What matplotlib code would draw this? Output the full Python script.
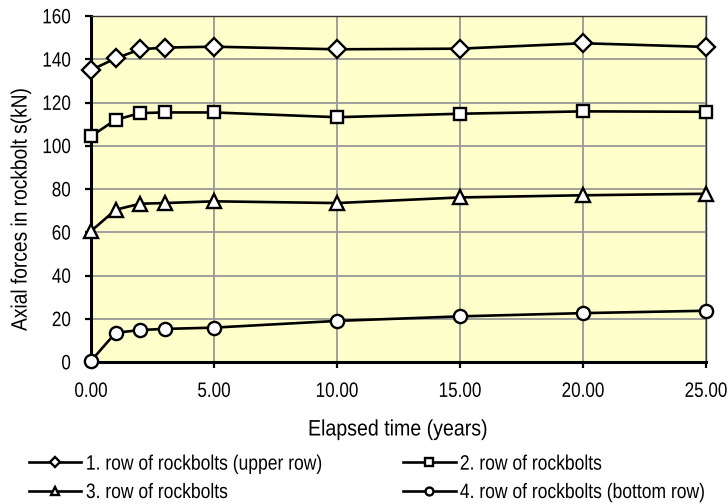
import matplotlib
matplotlib.use("Agg")
import matplotlib.pyplot as plt
from matplotlib import patheffects
from matplotlib.transforms import Affine2D

plt.rcParams['font.family'] = ['Liberation Sans', 'DejaVu Sans']


class Stretch(patheffects.AbstractPathEffect):
    """Stretch glyphs vertically (emulates a tall, narrow font)."""
    def __init__(self, sy=1.2):
        super().__init__()
        self.sy = sy

    def draw_path(self, renderer, gc, tpath, affine, rgbFace=None):
        cy = 36.0  # half cap height in text-path units (FONT_SCALE = 100)
        t = Affine2D().translate(0, -cy).scale(1, self.sy).translate(0, cy) + affine
        renderer.draw_path(gc, tpath, t, rgbFace)


years = [0, 1, 2, 3, 5, 10, 15, 20, 25]
row1 = [135.0, 140.4, 144.6, 145.4, 145.8, 144.6, 144.9, 147.4, 145.7]
row2 = [104.4, 112.0, 115.1, 115.4, 115.4, 113.2, 114.8, 115.9, 115.7]
row3 = [60.5, 70.4, 73.2, 73.5, 74.3, 73.5, 76.1, 77.1, 77.8]
row4 = [0.5, 13.5, 14.8, 15.3, 15.9, 19.0, 21.1, 22.6, 23.7]
labels = ["1. row of rockbolts (upper row)", "2. row of rockbolts",
          "3. row of rockbolts", "4. row of rockbolts (bottom row)"]
xticks = [0, 5, 10, 15, 20, 25]
yticks = [0, 20, 40, 60, 80, 100, 120, 140, 160]

W, H = 728, 504
fig = plt.figure(figsize=(W / 100, H / 100), dpi=100)
L, R, T, B = 91, 706, 16, 362
ax = fig.add_axes([L / W, 1 - B / H, (R - L) / W, (B - T) / H])
ax.set_facecolor('#FFFFCC')

series = [(row1, 'D', 8.8), (row2, 's', 9.0), (row3, '^', 10.5), (row4, 'o', 9.5)]
handles = []
for data, m, ms in series:
    h, = ax.plot(years, data, color='black', lw=1.9, marker=m, ms=ms,
                 mfc='white', mec='black', mew=1.7, clip_on=False, zorder=3)
    handles.append(h)

ax.set_xlim(0, 25)
ax.set_ylim(0, 160)
ax.set_xticks(xticks)
ax.set_xticklabels([f"{v:.2f}" for v in xticks])
ax.set_yticks(yticks)
ax.grid(True, color='#999999', lw=1.3)
ax.set_axisbelow(True)
for s in ['left', 'bottom']:
    ax.spines[s].set_linewidth(2.2)
    ax.spines[s].set_color('black')
for s in ['top', 'right']:
    ax.spines[s].set_linewidth(1.0)
    ax.spines[s].set_color('#333333')
ax.tick_params(axis='both', direction='out', length=4.5, width=1.6, labelsize=12.3)
ax.tick_params(axis='x', pad=11)
ax.tick_params(axis='y', pad=10)
for t in ax.get_xticklabels() + ax.get_yticklabels():
    t.set_path_effects([Stretch(1.22)])

xl = fig.text((L + R) / 2 / W, 1 - 429 / H, "Elapsed time (years)", fontsize=14.1,
              ha='center', va='center')
xl.set_path_effects([Stretch(1.14)])
yl = fig.text(21 / W, 1 - 210 / H, "Axial forces in rockbolt s(kN)", fontsize=13.8,
              ha='center', va='center', rotation=90)
yl.set_path_effects([Stretch(1.16)])

legkw = dict(loc='center left', frameon=False, fontsize=12.6, handlelength=3.0,
             handletextpad=0.25, labelspacing=0.75, borderpad=0, borderaxespad=0,
             markerscale=0.6)
legA = fig.legend([handles[0], handles[2]], [labels[0], labels[2]],
                  bbox_to_anchor=(29 / W, 1 - 478 / H), **legkw)
legB = fig.legend([handles[1], handles[3]], [labels[1], labels[3]],
                  bbox_to_anchor=(403 / W, 1 - 478 / H), **legkw)
for lg in (legA, legB):
    for t in lg.get_texts():
        t.set_path_effects([Stretch(1.19)])

fig.savefig("out.png", dpi=100)
